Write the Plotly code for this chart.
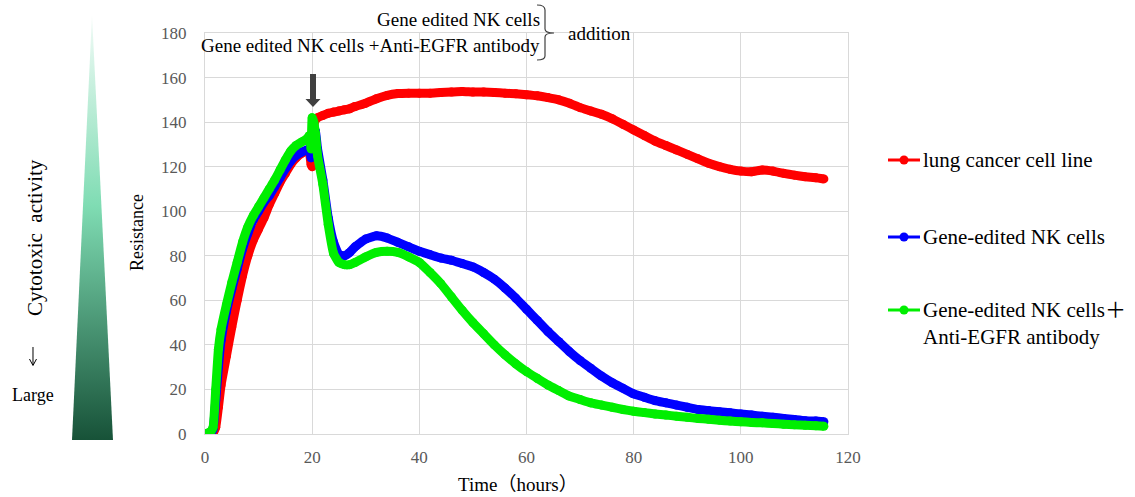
import base64
import plotly.graph_objects as go

# ---------------- data ----------------
time_h = [0, 1, 1.5, 2, 2.5, 3, 4, 5, 6, 7, 8, 9, 10, 11, 12, 13, 14, 15, 16, 17, 18, 19,
          19.5, 19.8, 20, 20.3, 20.6, 21, 22, 23, 24, 25, 26, 27, 28, 30, 32, 34, 36, 38,
          40, 42, 44, 46, 48, 50, 52, 54, 56, 58, 60, 62, 64, 66, 68, 70, 72, 74, 76, 78,
          80, 82, 84, 86, 88, 90, 92, 94, 96, 98, 100, 102, 104, 106, 108, 110, 112, 114, 115.5]

lung_cancer = [0, 0, 0.5, 3, 12, 22, 35, 48, 60, 71, 80, 87, 92, 97, 103, 108, 113, 117, 121, 124, 126, 127,
               126, 121, 120, 138, 141, 142, 143, 144, 144.5, 145, 145.5, 146, 147, 148.5, 150.5, 152, 152.8, 153,
               153, 153, 153.3, 153.5, 153.7, 153.5, 153.5, 153.3, 153, 152.7, 152.3, 151.8, 151, 150, 148.5, 146.5, 145, 143.5, 141.5, 139,
               136.5, 134, 131.5, 129.5, 127.5, 125.5, 123.5, 121.5, 120, 118.8, 118, 117.7, 118.5, 118, 117, 116.2, 115.5, 115, 114.5]

nk_cells = [0, 0.5, 2, 15, 30, 42, 55, 65, 74, 83, 90, 96, 100, 104, 107, 111, 115, 119, 122.5, 125, 126.5, 127.5,
            128, 124, 126, 137, 136, 128, 114, 97, 86, 80.5, 80, 81.5, 84, 87.5, 89, 88, 86, 84,
            82, 80.5, 79, 78, 76.5, 75, 72.5, 69.5, 65.5, 61, 56, 51, 46, 41.5, 37, 33, 29.5, 26, 23, 20.5,
            18, 16.5, 15, 14, 13, 12, 11, 10.5, 10, 9.5, 9, 8.5, 8, 7.5, 7, 6.5, 6, 5.8, 5.5]

nk_antibody = [0, 1, 3, 20, 38, 47, 58, 68, 77, 86, 93, 98, 102, 106, 110, 114, 118.5, 123, 127, 129.5, 131, 132.5,
               134, 128, 142, 140, 135, 125, 112, 94, 81, 77, 76, 76, 77, 79.5, 81.5, 82, 81.5, 79.5,
               77, 72.5, 67.5, 61.5, 55.5, 50, 45, 40, 35.5, 31.5, 28, 25, 22, 19.5, 17, 15.5, 14, 13, 12, 11,
               10.2, 9.6, 9, 8.5, 8, 7.5, 7, 6.6, 6.2, 5.8, 5.5, 5.2, 5, 4.7, 4.4, 4.1, 3.9, 3.7, 3.5]

series_names = ["lung cancer cell line", "Gene-edited NK cells", "Gene-edited NK cells＋<br>Anti-EGFR antibody"]
series_colors = ["#ff0000", "#0000ff", "#00ee00"]
x_ticks = [0, 20, 40, 60, 80, 100, 120]
y_ticks = [0, 20, 40, 60, 80, 100, 120, 140, 160, 180]

# ---------------- layout helpers (pixel -> paper) ----------------
W, H = 1135, 497
L, R, T, B = 205, 848, 33, 434


def px(x):
    return (x - L) / (R - L)


def py(y):
    return (B - y) / (B - T)


def P(a, b):
    return f"{px(a):.5f},{py(b):.5f}"


SERIF = "Liberation Serif, Times New Roman, Noto Sans CJK JP, serif"

fig = go.Figure()
for vals, name, col in zip([lung_cancer, nk_cells, nk_antibody], series_names, series_colors):
    fig.add_trace(go.Scatter(
        x=time_h, y=vals, name=name, mode="lines+markers",
        line=dict(color=col, width=9, shape="spline", smoothing=0.4),
        marker=dict(color=col, size=9),
        showlegend=False, hoverinfo="x+y+name",
    ))

shapes = []
annotations = []

# custom legend on the right
legend_y = [160, 237, 310]
for name, col, ly in zip(series_names, series_colors, legend_y):
    shapes.append(dict(type="line", xref="paper", yref="paper",
                       x0=px(888), x1=px(920), y0=py(ly), y1=py(ly),
                       line=dict(color=col, width=3)))
    shapes.append(dict(type="circle", xref="paper", yref="paper",
                       x0=px(899.5), x1=px(908.5), y0=py(ly - 4.5), y1=py(ly + 4.5),
                       fillcolor=col, line=dict(color=col, width=0)))
    annotations.append(dict(xref="paper", yref="paper", x=px(921), y=py(ly - 14),
                            xanchor="left", yanchor="top", align="left", showarrow=False,
                            text=name, font=dict(family=SERIF, size=21, color="#000000")))

# arrow marking the addition at 20 h
arrow_pts = [(310, 74), (316, 74), (316, 99), (320.5, 99), (313, 107), (305.5, 99), (310, 99)]
path = "M " + " L ".join(P(a, b) for a, b in arrow_pts) + " Z"
shapes.append(dict(type="path", xref="paper", yref="paper", path=path,
                   fillcolor="#404040", line=dict(width=0)))

# bracket "}"
brace = (f"M {P(537,5)} Q {P(545,5)} {P(545,10)} L {P(545,29)} Q {P(545,33)} {P(554,33)} "
         f"Q {P(545,33)} {P(545,37)} L {P(545,56)} Q {P(545,60)} {P(537,60)}")
shapes.append(dict(type="path", xref="paper", yref="paper", path=brace,
                   line=dict(color="#404040", width=1.2)))

# thin down arrow under "Cytotoxic activity"
down = f"M {P(33,347)} L {P(33,365)} M {P(29.5,359)} L {P(33,365.5)} L {P(36.5,359)}"
shapes.append(dict(type="path", xref="paper", yref="paper", path=down,
                   line=dict(color="#000000", width=1)))

annotations += [
    dict(xref="paper", yref="paper", x=px(542), y=py(20), xanchor="right", yanchor="middle",
         showarrow=False, text="Gene edited NK cells", font=dict(family=SERIF, size=19, color="#000")),
    dict(xref="paper", yref="paper", x=px(542), y=py(45), xanchor="right", yanchor="middle",
         showarrow=False, text="Gene edited NK cells +Anti-EGFR antibody",
         font=dict(family=SERIF, size=19, color="#000")),
    dict(xref="paper", yref="paper", x=px(566), y=py(33), xanchor="left", yanchor="middle",
         showarrow=False, text="addition", font=dict(family=SERIF, size=19, color="#000")),
    dict(xref="paper", yref="paper", x=px(137), y=py(233), xanchor="center", yanchor="middle",
         showarrow=False, text="Resistance", textangle=-90, font=dict(family=SERIF, size=18, color="#000")),
    dict(xref="paper", yref="paper", x=px(518), y=py(484), xanchor="center", yanchor="middle",
         showarrow=False, text="Time（hours）", font=dict(family=SERIF, size=19, color="#000")),
    dict(xref="paper", yref="paper", x=px(35), y=py(238), xanchor="center", yanchor="middle",
         showarrow=False, text="Cytotoxic  activity", textangle=-90,
         font=dict(family=SERIF, size=21, color="#000")),
    dict(xref="paper", yref="paper", x=px(33), y=py(395), xanchor="center", yanchor="middle",
         showarrow=False, text="Large", font=dict(family=SERIF, size=18, color="#000")),
]

# gradient triangle (decorative)
svg = ('<svg xmlns="http://www.w3.org/2000/svg" width="40" height="425" viewBox="0 0 40 425" '
       'preserveAspectRatio="none"><defs><linearGradient id="g" x1="0" y1="0" x2="0" y2="1">'
       '<stop offset="0" stop-color="#f2fbf7"/><stop offset="0.45" stop-color="#7fdcb3"/>'
       '<stop offset="1" stop-color="#175238"/></linearGradient></defs>'
       '<polygon points="19.5,0 40,425 0,425" fill="url(#g)"/></svg>')
src = "data:image/svg+xml;base64," + base64.b64encode(svg.encode()).decode()

axis_common = dict(showgrid=True, gridcolor="#d9d9d9", gridwidth=1, zeroline=False,
                   showline=True, linecolor="#d9d9d9", linewidth=1, mirror=True,
                   ticks="", tickfont=dict(family=SERIF, size=17, color="#595959"))

fig.update_layout(
    width=W, height=H,
    margin=dict(l=L, r=W - R, t=T, b=H - B, pad=0),
    plot_bgcolor="#ffffff", paper_bgcolor="#ffffff",
    xaxis=dict(range=[0, 120], tickvals=x_ticks, ticklabelstandoff=8, **axis_common),
    yaxis=dict(range=[0, 180], tickvals=y_ticks, ticklabelstandoff=14, **axis_common),
    shapes=shapes, annotations=annotations,
    images=[dict(source=src, xref="paper", yref="paper", x=px(72), y=py(15),
                 sizex=41 / (R - L), sizey=425 / (B - T), xanchor="left", yanchor="top",
                 sizing="stretch", layer="above")],
    showlegend=False,
)

fig.write_html("out.html", config={"displayModeBar": False},
               post_script="document.body.style.margin='0';document.body.style.overflow='hidden';")
